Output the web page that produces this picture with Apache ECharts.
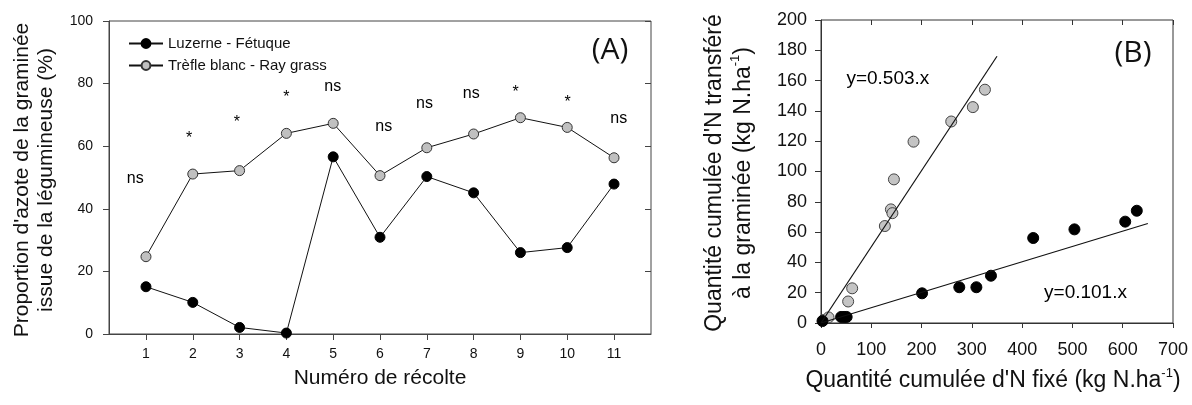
<!DOCTYPE html>
<html><head><meta charset="utf-8">
<script src="https://cdn.jsdelivr.net/npm/echarts@6/dist/echarts.min.js"></script>
<style>html,body{margin:0;padding:0;background:#fff}#c{width:1192px;height:405px}</style>
</head><body><div id="c"></div>
<script>
// ---------- Panel A data ----------
const harvests = [1, 2, 3, 4, 5, 6, 7, 8, 9, 10, 11];
const luzerneFetuque = [15.1, 10.1, 2.1, 0.3, 56.6, 30.9, 50.3, 45.1, 26.0, 27.6, 47.9];
const trefleRaygrass = [24.7, 51.1, 52.2, 64.1, 67.3, 50.6, 59.5, 63.9, 69.1, 66.0, 56.3];
const sigLabels = ['ns', '*', '*', '*', 'ns', 'ns', 'ns', 'ns', '*', '*', 'ns'];
const sigX = [0.77, 1.92, 2.94, 4.0, 4.99, 6.08, 6.95, 7.95, 8.9, 10.01, 11.1];
const sigY = [49.7, 63.6, 68.9, 76.7, 79.0, 66.2, 73.5, 76.9, 78.5, 75.3, 68.7];
const seriesNamesA = ['Luzerne - Fétuque', 'Trèfle blanc - Ray grass'];

// ---------- Panel B data ----------
const trefleFixed = [5, 15, 54, 62, 127, 139, 142, 145, 184, 259, 302, 326];
const trefleTransfer = [2, 3.7, 14.2, 22.9, 64, 75, 72.5, 94.8, 119.7, 133, 142.5, 154];
const luzerneFixed = [3, 40, 46, 51, 201, 275, 309, 338, 422, 504, 605, 628];
const luzerneTransfer = [1.3, 4, 4, 4, 19.6, 23.6, 23.6, 31.2, 56.1, 61.8, 66.9, 74.1];
const slopes = [0.503, 0.101];
const fitXmax = [350, 650];
const eqLabels = ['y=0.503.x', 'y=0.101.x'];
const eqX = [133, 526];
const eqY = [161.5, 20];

const FF = 'Liberation Sans, Arial, sans-serif';
const AX = '#444';

const chart = echarts.init(document.getElementById('c'), null, {renderer: 'canvas'});

function xy(xs, ys) { return xs.map((x, i) => [x, ys[i]]); }

const sigData = sigLabels.map((t, i) => ({
  value: [sigX[i], sigY[i]], name: t,
  label: {offset: t === '*' ? [0, 4] : [0, 0]}
}));
const eqData = eqLabels.map((t, i) => ({value: [eqX[i], eqY[i]], name: t}));

const textLabel = (size) => ({show: true, position: 'inside', formatter: p => p.name,
  fontSize: size, color: '#000', fontFamily: FF, textBorderWidth: 0, textBorderColor: 'transparent', opacity: 1});

const option = {
  animation: false,
  backgroundColor: '#fff',
  textStyle: {fontFamily: FF},
  grid: [
    {left: 109, top: 21, width: 542, height: 313, show: true, borderColor: AX, borderWidth: 1, backgroundColor: 'transparent'},
    {left: 821, top: 20, width: 352, height: 303, show: true, borderColor: '#333', borderWidth: 1, backgroundColor: 'transparent'}
  ],
  legend: {
    data: seriesNamesA,
    orient: 'vertical', left: 128, top: 36, itemGap: 7,
    itemWidth: 34, itemHeight: 11,
    textStyle: {fontSize: 15, color: '#111', fontFamily: FF},
    padding: 0
  },
  xAxis: [
    {gridIndex: 0, type: 'value', min: 0.21, max: 11.79,
      axisLine: {lineStyle: {color: AX, width: 1}},
      axisTick: {show: true, customValues: harvests, length: 6, lineStyle: {color: AX}},
      axisLabel: {customValues: harvests, fontSize: 14, color: '#111', margin: 13, fontFamily: FF},
      splitLine: {show: false}},
    {gridIndex: 0, type: 'value', min: 0.21, max: 11.79,
      axisLine: {show: false},
      axisTick: {show: true, inside: true, customValues: harvests, length: 6, lineStyle: {color: AX}},
      axisLabel: {show: false}, splitLine: {show: false}},
    {gridIndex: 1, type: 'value', min: 0, max: 700, interval: 100,
      axisLine: {lineStyle: {color: '#333', width: 1}},
      axisTick: {show: true, length: 5, lineStyle: {color: '#333'}},
      axisLabel: {fontSize: 18, color: '#111', margin: 18, fontFamily: FF},
      splitLine: {show: false}},
    {gridIndex: 1, type: 'value', min: 0, max: 700, interval: 100,
      axisLine: {show: false},
      axisTick: {show: true, inside: true, length: 5, lineStyle: {color: '#333'}},
      axisLabel: {show: false}, splitLine: {show: false}}
  ],
  yAxis: [
    {gridIndex: 0, type: 'value', min: 0, max: 100, interval: 20,
      axisLine: {show: true, lineStyle: {color: AX, width: 1}},
      axisTick: {show: true, length: 6, lineStyle: {color: AX}},
      axisLabel: {fontSize: 14, color: '#111', margin: 16, fontFamily: FF},
      splitLine: {show: false}},
    {gridIndex: 0, type: 'value', min: 0, max: 100, interval: 20,
      axisLine: {show: false},
      axisTick: {show: true, inside: true, length: 6, lineStyle: {color: AX}},
      axisLabel: {show: false}, splitLine: {show: false}},
    {gridIndex: 1, type: 'value', min: 0, max: 200, interval: 20,
      axisLine: {show: true, lineStyle: {color: '#333', width: 1}},
      axisTick: {show: true, length: 6, lineStyle: {color: '#333'}},
      axisLabel: {fontSize: 18, color: '#111', margin: 14, fontFamily: FF},
      splitLine: {show: false}}
  ],
  series: [
    {name: seriesNamesA[0], type: 'line', xAxisIndex: 0, yAxisIndex: 0,
      data: xy(harvests, luzerneFetuque),
      symbol: 'circle', symbolSize: 10,
      lineStyle: {color: '#111', width: 1},
      itemStyle: {color: '#000', borderColor: '#000', borderWidth: 1}, z: 3},
    {name: seriesNamesA[1], type: 'line', xAxisIndex: 0, yAxisIndex: 0,
      data: xy(harvests, trefleRaygrass),
      symbol: 'circle', symbolSize: 10,
      lineStyle: {color: '#111', width: 1},
      itemStyle: {color: '#c0c0c0', borderColor: '#333', borderWidth: 1}, z: 3},
    {type: 'scatter', xAxisIndex: 0, yAxisIndex: 0, data: sigData, silent: true,
      symbolSize: 0, itemStyle: {color: '#000'},
      label: textLabel(16)},
    {type: 'scatter', xAxisIndex: 2, yAxisIndex: 2, data: xy(trefleFixed, trefleTransfer),
      symbolSize: 11, itemStyle: {color: '#c4c4c4', borderColor: '#444', borderWidth: 1, opacity: 1}, z: 2},
    {type: 'scatter', xAxisIndex: 2, yAxisIndex: 2, data: xy(luzerneFixed, luzerneTransfer),
      symbolSize: 11, itemStyle: {color: '#000', borderColor: '#000', borderWidth: 1, opacity: 1}, z: 2},
    ...slopes.map((s, i) => ({type: 'line', xAxisIndex: 2, yAxisIndex: 2,
      data: [[0, 0], [fitXmax[i], s * fitXmax[i]]], symbol: 'none', silent: true,
      lineStyle: {color: '#111', width: 1.2}, z: 4})),
    {type: 'scatter', xAxisIndex: 2, yAxisIndex: 2, data: eqData, silent: true,
      symbolSize: 0, itemStyle: {color: '#000'},
      label: textLabel(19)}
  ],
  graphic: [
    {type: 'text', x: 34, y: 180, rotation: Math.PI / 2,
      style: {text: "Proportion d'azote de la graminée\nissue de la légumineuse (%)",
        font: '21px ' + FF, fill: '#111', align: 'center', verticalAlign: 'middle', lineHeight: 24}},
    {type: 'text', x: 380, y: 378,
      style: {text: 'Numéro de récolte', font: '21px ' + FF, fill: '#111', align: 'center', verticalAlign: 'middle'}},
    {type: 'text', x: 610, y: 50,
      style: {text: '(A)', font: '30px Open Sans', fill: '#111', align: 'center', verticalAlign: 'middle'}},
    {type: 'text', x: 1133, y: 53,
      style: {text: '(B)', font: '30px Open Sans', fill: '#111', align: 'center', verticalAlign: 'middle'}},
    {type: 'text', x: 729, y: 173, rotation: Math.PI / 2,
      style: {text: "{a|Quantité cumulée d'N transféré}\n{a|à la graminée (kg N.ha}{s|-1}{a|)}",
        align: 'center', verticalAlign: 'middle', fill: '#111',
        rich: {a: {fontSize: 23, fontFamily: FF, lineHeight: 29, fill: '#111'},
               s: {fontSize: 13, fontFamily: FF, verticalAlign: 'top', lineHeight: 29, fill: '#111'}}}},
    {type: 'text', x: 993, y: 381,
      style: {text: "{a|Quantité cumulée d'N fixé (kg N.ha}{s|-1}{a|)}",
        align: 'center', verticalAlign: 'middle', fill: '#111',
        rich: {a: {fontSize: 23, fontFamily: FF, lineHeight: 29, fill: '#111'},
               s: {fontSize: 13, fontFamily: FF, verticalAlign: 'top', lineHeight: 29, fill: '#111'}}}}
  ]
};
chart.setOption(option);
</script>
</body></html>
